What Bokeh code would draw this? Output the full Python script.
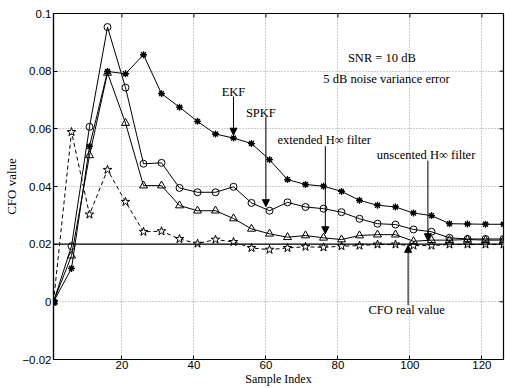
import math
from bokeh.plotting import figure
from bokeh.models import (Range1d, FixedTicker, Span, Arrow, NormalHead,
                          ColumnDataSource, CustomJSTickFormatter)
from bokeh.core.properties import value
from bokeh.embed import file_html
from bokeh.resources import INLINE

# ---------------- data ----------------
sample_index = [1, 6, 11, 16, 21, 26, 31, 36, 41, 46, 51, 56, 61, 66, 71, 76, 81,
                86, 91, 96, 101, 106, 111, 116, 121, 126]
ekf = [0, 0.0116, 0.0539, 0.0799, 0.0791, 0.0857, 0.0722, 0.0675, 0.0626, 0.0582,
       0.0568, 0.0549, 0.0493, 0.0424, 0.0407, 0.0401, 0.0383, 0.0352, 0.0335, 0.0329,
       0.0308, 0.0299, 0.0271, 0.0270, 0.0269, 0.0269]
spkf = [0, 0.0193, 0.0607, 0.0953, 0.0743, 0.0479, 0.0482, 0.0395, 0.0380, 0.0380,
        0.0399, 0.0343, 0.0316, 0.0345, 0.0329, 0.0323, 0.0311, 0.0288, 0.0271, 0.0268,
        0.0251, 0.0243, 0.0222, 0.0218, 0.0218, 0.0218]
ext_hinf = [0, 0.0160, 0.0508, 0.0794, 0.0620, 0.0403, 0.0403, 0.0334, 0.0316, 0.0316,
            0.0289, 0.0253, 0.0236, 0.0224, 0.0230, 0.0222, 0.0216, 0.0230, 0.0233, 0.0233,
            0.0210, 0.0214, 0.0214, 0.0216, 0.0214, 0.0214]
uns_hinf = [0, 0.0589, 0.0303, 0.0458, 0.0347, 0.0243, 0.0245, 0.0218, 0.0202, 0.0216,
            0.0208, 0.0187, 0.0181, 0.0187, 0.0191, 0.0189, 0.0193, 0.0195, 0.0199, 0.0199,
            0.0195, 0.0195, 0.0199, 0.0199, 0.0199, 0.0199]
cfo_real = 0.02

x_lim = (1, 126)
y_lim = (-0.02, 0.1)
x_ticks = [20, 40, 60, 80, 100, 120]
y_ticks = [-0.02, 0, 0.02, 0.04, 0.06, 0.08, 0.1]
y_tick_labels = ["\u22120.02", "0", "0.02", "0.04", "0.06", "0.08", "0.1"]

# annotations: text, x, y
note_text = ["SNR = 10 dB", "5 dB noise variance error", "EKF", "SPKF",
             "extended H\u221e filter", "unscented H\u221e filter", "CFO real value"]
note_x = [92.2, 93.5, 51, 58.6, 76.2, 104.5, 99.1]
note_y = [0.0846, 0.0774, 0.0727, 0.0655, 0.0562, 0.0510, -0.0029]
# arrows: x, y start -> y end
arr_x = [51, 60, 76.5, 105, 99.5]
arr_y0 = [0.0712, 0.0641, 0.0540, 0.0490, -0.0012]
arr_y1 = [0.0578, 0.0330, 0.0236, 0.0212, 0.0196]

SERIF = "Liberation Serif"
SANS = "Liberation Sans"

p = figure(width=505, height=388, output_backend="svg", toolbar_location=None,
           x_range=Range1d(*x_lim), y_range=Range1d(*y_lim),
           min_border_left=53, min_border_right=2, min_border_top=13, min_border_bottom=28)
p.background_fill_color = "white"
p.border_fill_color = "white"
p.outline_line_color = "black"
p.outline_line_width = 1.2

for ax, ticks in ((p.xaxis[0], x_ticks), (p.yaxis[0], y_ticks)):
    ax.ticker = FixedTicker(ticks=ticks)
    ax.major_tick_in = 4
    ax.major_tick_out = 0
    ax.minor_tick_line_color = None
    ax.axis_line_color = "black"
    ax.axis_line_width = 1.2
    ax.major_label_text_font = SANS
    ax.major_label_text_font_size = "11.5px"
    ax.major_label_text_color = "black"
    ax.major_label_standoff = 2
    ax.axis_label_text_font = SERIF
    ax.axis_label_text_font_style = "normal"
    ax.axis_label_text_color = "black"
    ax.axis_label_standoff = 0

p.xaxis.major_label_standoff = 1
p.xaxis.axis_label = "Sample Index"
p.xaxis.axis_label_text_font_size = "12px"
p.yaxis.axis_label = "CFO value"
p.yaxis.axis_label_text_font_size = "13px"
p.yaxis.formatter = CustomJSTickFormatter(
    args=dict(vals=y_ticks, labs=y_tick_labels),
    code="for (let i = 0; i < vals.length; i++) { if (Math.abs(vals[i] - tick) < 1e-9) return labs[i]; } return '';")

p.xgrid.ticker = FixedTicker(ticks=x_ticks)
p.ygrid.ticker = FixedTicker(ticks=y_ticks)
for g in (p.xgrid, p.ygrid):
    g.grid_line_color = "#9a9a9a"
    g.grid_line_dash = "1 2"
    g.grid_line_width = 1

# inward tick marks on the top and right edges of the box (half of each dash is clipped)
p.scatter(x=x_ticks, y=[y_lim[1]] * len(x_ticks), marker="dash", angle=math.pi / 2,
          size=8, line_color="black", line_width=1)
p.scatter(x=[x_lim[1]] * len(y_ticks), y=y_ticks, marker="dash",
          size=8, line_color="black", line_width=1)

# CFO real value line
p.add_layout(Span(location=cfo_real, dimension="width", line_color="black", line_width=1.2))

src = ColumnDataSource(dict(x=sample_index, ekf=ekf, spkf=spkf, eh=ext_hinf, uh=uns_hinf))

# unscented H-inf (dashed, stars)
p.line("x", "uh", source=src, line_color="black", line_width=1, line_dash="4 3")
p.scatter("x", "uh", source=src, marker="star", size=9, fill_color="white",
          line_color="black", line_width=1)
# extended H-inf (triangles)
p.line("x", "eh", source=src, line_color="black", line_width=1)
p.scatter("x", "eh", source=src, marker="triangle", size=8, fill_color="white",
          fill_alpha=0, line_color="black", line_width=1)
# SPKF (circles)
p.line("x", "spkf", source=src, line_color="black", line_width=1)
p.scatter("x", "spkf", source=src, marker="circle", size=7, fill_color="white",
          fill_alpha=0, line_color="black", line_width=1)
# EKF (asterisks)
p.line("x", "ekf", source=src, line_color="black", line_width=1)
p.scatter("x", "ekf", source=src, marker="asterisk", size=7, line_color="black", line_width=1.3)
p.scatter("x", "ekf", source=src, marker="circle", size=3.5, fill_color="black", line_color="black")

# annotations
nsrc = ColumnDataSource(dict(x=note_x, y=note_y, t=note_text))
p.text("x", "y", text="t", source=nsrc, text_font=value(SERIF), text_font_size="12.5px",
       text_align="center", text_baseline="middle", text_color="black")

for xa, y0, y1 in zip(arr_x, arr_y0, arr_y1):
    p.add_layout(Arrow(end=NormalHead(size=7, fill_color="black", line_color="black", line_width=1),
                       x_start=xa, y_start=y0, x_end=xa, y_end=y1,
                       line_color="black", line_width=1))

open("out.html", "w").write(file_html(p, INLINE))
